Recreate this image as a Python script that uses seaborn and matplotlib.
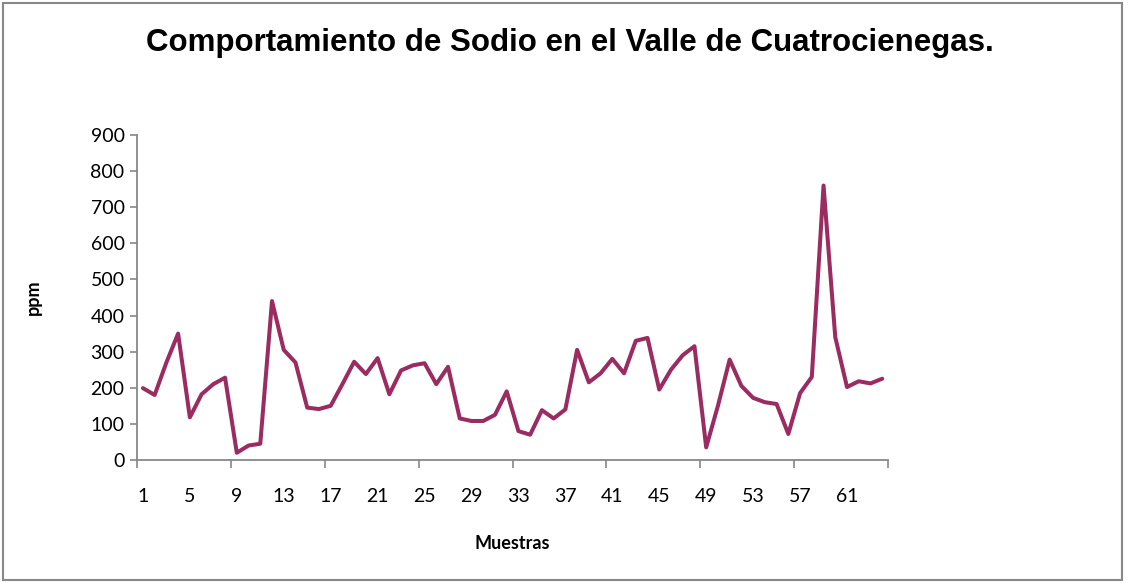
import matplotlib
matplotlib.use("Agg")
import matplotlib.pyplot as plt
import seaborn as sns
import pandas as pd
from matplotlib.patches import Rectangle

# sodium values (ppm) per sample
muestras = list(range(1, 65))
sodio = [199, 180, 270, 350, 118, 182, 210, 228, 20, 40,
         45, 440, 305, 270, 145, 141, 150, 210, 272, 238,
         282, 182, 248, 262, 268, 210, 258, 115, 108, 108,
         125, 190, 80, 70, 138, 115, 140, 305, 215, 240,
         280, 240, 330, 338, 195, 250, 290, 315, 35, 150,
         278, 205, 172, 160, 155, 72, 185, 230, 760, 340,
         202, 218, 212, 225]
etiquetas_x = list(range(1, 62, 4))
ticks_y = list(range(0, 901, 100))

df = pd.DataFrame({'muestra': muestras, 'ppm': sodio})

sns.set_style('white')
plt.rcParams['font.family'] = ['Lato', 'DejaVu Sans']
plt.rcParams['text.color'] = 'black'
plt.rcParams['axes.labelcolor'] = 'black'
plt.rcParams['xtick.color'] = 'black'
plt.rcParams['ytick.color'] = 'black'

fig = plt.figure(figsize=(11.28, 5.83), dpi=100)
ax = fig.add_axes([0.1215, 0.211, 0.6658, 0.5575])

sns.lineplot(data=df, x='muestra', y='ppm', ax=ax, color='#9b2c62', linewidth=2.9)
ax.lines[0].set_solid_joinstyle('round')
ax.lines[0].set_solid_capstyle('round')

ax.set_xlim(0.5, 64.5)
ax.set_ylim(0, 900)
ax.set_yticks(ticks_y)
ax.set_xticks(etiquetas_x)
ax.set_xticks([0.5 + 8 * i for i in range(9)], minor=True)
ax.tick_params(axis='x', which='major', length=0, pad=20, labelsize=14)
ax.tick_params(axis='x', which='minor', length=6, width=1.2, color='#888888', direction='out', bottom=True)
ax.tick_params(axis='y', length=5, width=1.2, color='#888888', labelcolor='black', labelsize=14, pad=4, left=True)

for side in ['top', 'right']:
    ax.spines[side].set_visible(False)
for side in ['left', 'bottom']:
    ax.spines[side].set_color('#888888')
    ax.spines[side].set_linewidth(1.3)

ax.set_xlabel('Muestras', fontsize=13, fontweight='bold', labelpad=22)
ax.set_ylabel('ppm', fontsize=13, fontweight='bold', labelpad=35)

fig.text(0.505, 0.927, 'Comportamiento de Sodio en el Valle de Cuatrocienegas.',
         ha='center', va='center', fontsize=22.5, fontweight='bold', family='Liberation Sans')

# outer chart border
fig.patches.append(Rectangle((0.003, 0.005), 0.992, 0.99, transform=fig.transFigure,
                             fill=False, edgecolor='#888888', linewidth=1.5))

plt.savefig('out.png', dpi=100)
